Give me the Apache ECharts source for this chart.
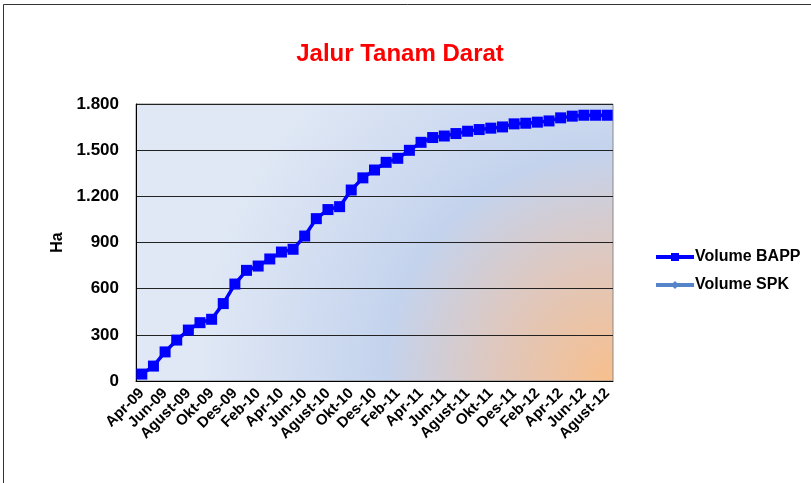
<!DOCTYPE html>
<html>
<head>
<meta charset="utf-8">
<script src="https://cdn.jsdelivr.net/npm/echarts@6/dist/echarts.min.js"></script>
<style>
  html, body { margin: 0; padding: 0; background: #fff; }
  #chart { width: 811px; height: 483px; }
</style>
</head>
<body>
<div id="chart"></div>
<script>
// bulan Apr-09 .. Agust-12
const months = [
  'Apr-09', 'Mei-09', 'Jun-09', 'Jul-09', 'Agust-09', 'Sep-09', 'Okt-09', 'Nov-09', 'Des-09',
  'Jan-10', 'Feb-10', 'Mar-10', 'Apr-10', 'Mei-10', 'Jun-10', 'Jul-10', 'Agust-10', 'Sep-10',
  'Okt-10', 'Nov-10', 'Des-10', 'Jan-11', 'Feb-11', 'Mar-11', 'Apr-11', 'Mei-11', 'Jun-11',
  'Jul-11', 'Agust-11', 'Sep-11', 'Okt-11', 'Nov-11', 'Des-11', 'Jan-12', 'Feb-12', 'Mar-12',
  'Apr-12', 'Mei-12', 'Jun-12', 'Jul-12', 'Agust-12'
]
const volumeBAPP = [
  45, 97, 189, 266, 331, 379, 401, 503, 630, 719, 747, 793, 838, 856, 942, 1055, 1114, 1133,
  1241, 1320, 1371, 1421, 1447, 1499, 1551, 1582, 1592, 1608, 1623, 1634, 1643, 1651, 1671,
  1675, 1682, 1690, 1710, 1721, 1727, 1727, 1727
]
const volumeSPK = []
const yTicks = { min: 0, max: 1800, interval: 300 }

const chart = echarts.init(document.getElementById('chart'))

const fmt = v => String(v).replace(/\B(?=(\d{3})+(?!\d))/g, '.')

const option = {
  animation: false,
  textStyle: { fontFamily: 'Liberation Sans, Arial, sans-serif' },
  graphic: [{
    type: 'rect',
    shape: { x: 3.5, y: 4.5, width: 830, height: 520 },
    style: { fill: 'none', stroke: '#333', lineWidth: 1 },
    silent: true
  }],
  title: {
    text: 'Jalur Tanam Darat',
    left: 395,
    top: 37,
    textAlign: 'center',
    textStyle: { color: '#ff0000', fontSize: 24, fontWeight: 'bold' }
  },
  legend: {
    orient: 'vertical',
    left: 649,
    top: 244,
    itemGap: 12,
    itemWidth: 38,
    itemHeight: 10,
    lineStyle: { width: 4 },
    textStyle: { fontSize: 16, fontWeight: 'bold', color: '#000', padding: [0, 0, 0, -4] },
    data: ['Volume BAPP', 'Volume SPK']
  },
  grid: {
    left: 136, right: 198, top: 104, bottom: 102,
    show: true,
    borderColor: '#888',
    borderWidth: 1,
    backgroundColor: new echarts.graphic.RadialGradient(1, 1, 1.5, [
      { offset: 0, color: '#f8bf8c' },
      { offset: 0.28, color: '#e0c7bc' },
      { offset: 0.55, color: '#c4d3ed' },
      { offset: 1, color: '#e0e8f5' }
    ])
  },
  xAxis: {
    type: 'category',
    data: months,
    boundaryGap: true,
    axisLine: { lineStyle: { color: '#000', width: 1 } },
    axisTick: { show: false },
    axisLabel: {
      interval: 1,
      rotate: 45,
      margin: 10,
      color: '#000',
      fontSize: 15,
      fontWeight: 'bold'
    }
  },
  yAxis: {
    type: 'value',
    min: yTicks.min,
    max: yTicks.max,
    interval: yTicks.interval,
    name: 'Ha',
    nameLocation: 'middle',
    nameGap: 70,
    nameRotate: 90,
    nameTextStyle: { fontSize: 16, fontWeight: 'bold', color: '#000' },
    axisLine: { show: true, lineStyle: { color: '#000', width: 1 } },
    axisTick: { show: false },
    axisLabel: {
      color: '#000',
      fontSize: 17,
      fontWeight: 'bold',
      margin: 17,
      formatter: fmt
    },
    splitLine: { lineStyle: { color: '#222', width: 1 } }
  },
  series: [
    {
      name: 'Volume BAPP',
      type: 'line',
      data: volumeBAPP,
      showAllSymbol: true,
      symbol: 'rect',
      symbolSize: 11,
      lineStyle: { color: '#0000ff', width: 3.5 },
      itemStyle: { color: '#0000ff' }
    },
    {
      name: 'Volume SPK',
      type: 'line',
      data: volumeSPK,
      symbol: 'diamond',
      symbolSize: 10,
      lineStyle: { color: '#5585c8', width: 3.5 },
      itemStyle: { color: '#5585c8' }
    }
  ]
}

chart.setOption(option)
</script>
</body>
</html>
